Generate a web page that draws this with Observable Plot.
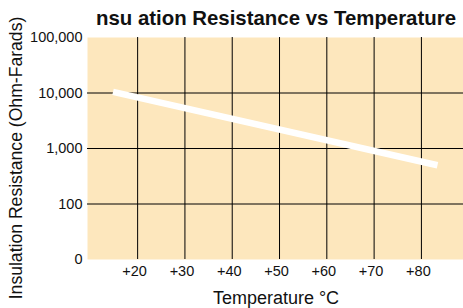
<!DOCTYPE html>
<html>
<head>
<meta charset="utf-8">
<script src="https://cdn.jsdelivr.net/npm/d3@7"></script>
<script src="https://cdn.jsdelivr.net/npm/@observablehq/plot@0.6"></script>
<style>
  html, body { margin: 0; padding: 0; background: white; }
</style>
</head>
<body>
<div id="chart"></div>
<script>
const title = "nsu ation Resistance vs Temperature";
const yLabel = "Insulation Resistance (Ohm-Farads)";
const xLabel = "Temperature °C";

// line endpoints
const temps = [14.8, 83.4];
const resistance = [10500, 500];

const xTicks = [20, 30, 40, 50, 60, 70, 80];
const yTicks = [10, 100, 1000, 10000, 100000];
const yTickLabels = ["0", "100", "1,000", "10,000", "100,000"];

const data = temps.map((t, i) => ({t, r: resistance[i]}));

const svg = Plot.plot({
  width: 463,
  height: 308,
  marginLeft: 87,
  marginRight: 0,
  marginTop: 37,
  marginBottom: 49,
  style: {fontFamily: "'Liberation Sans', Arial, sans-serif", fontSize: "14.5px", color: "#111", background: "white"},
  x: {domain: [9.4, 88.9]},
  y: {type: "log", domain: [10, 100000]},
  marks: [
    Plot.frame({fill: "#fde7bd", stroke: null}),
    Plot.gridX(xTicks, {stroke: "#000", strokeOpacity: 1, strokeWidth: 1}),
    Plot.gridY([100, 1000, 10000], {stroke: "#000", strokeOpacity: 1, strokeWidth: 1}),
    Plot.line(data, {x: "t", y: "r", stroke: "white", strokeWidth: 6.5, strokeLinecap: "butt"}),
    Plot.axisX(xTicks, {tickSize: 0, tickPadding: 6, dx: -3, tickFormat: d => "+" + d, label: null}),
    Plot.axisY(yTicks, {tickSize: 0, tickPadding: 5, tickFormat: d => yTickLabels[yTicks.indexOf(d)], label: null})
  ]
});

const s = d3.select(svg);
s.append("text")
  .attr("x", 96).attr("y", 25)
  .attr("text-anchor", "start")
  .attr("font-weight", "bold").attr("font-size", 20.4)
  .attr("fill", "#111")
  .text(title);
s.append("text")
  .attr("transform", "translate(22,158) rotate(-90)")
  .attr("text-anchor", "middle").attr("font-size", 17.6)
  .attr("fill", "#111")
  .text(yLabel);
s.append("text")
  .attr("x", 276).attr("y", 304)
  .attr("text-anchor", "middle").attr("font-size", 18)
  .attr("fill", "#111")
  .text(xLabel);

document.getElementById("chart").appendChild(svg);
</script>
</body>
</html>
